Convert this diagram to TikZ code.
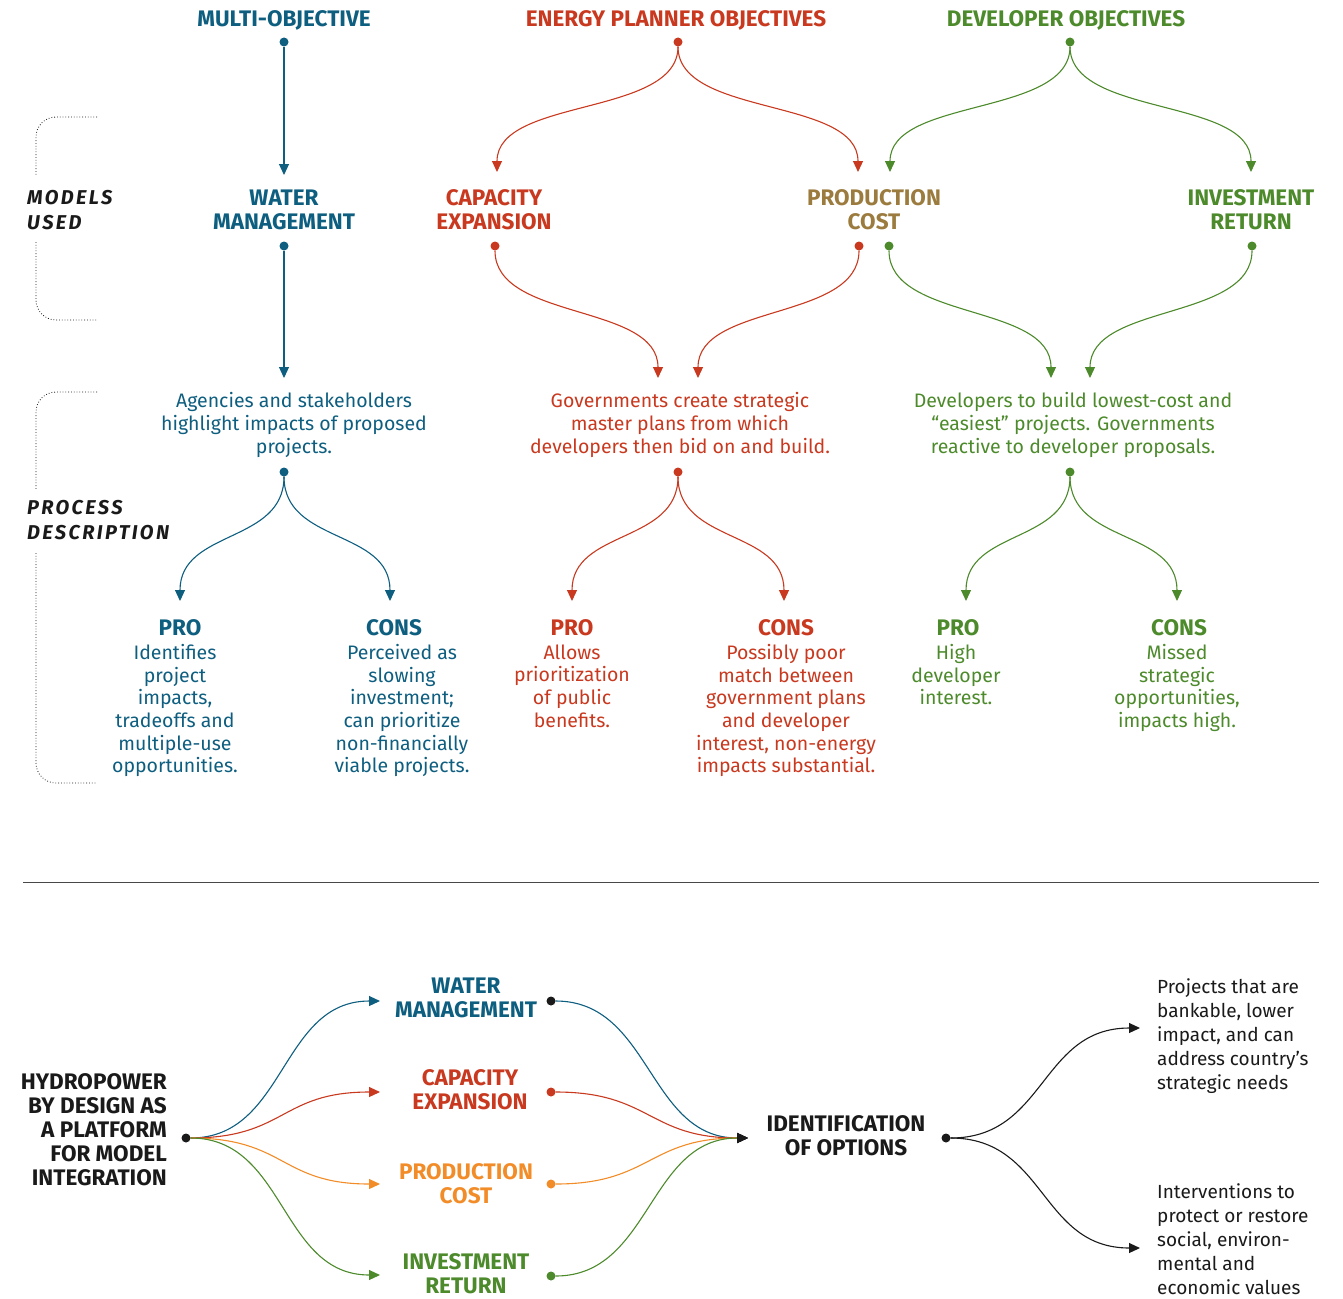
\documentclass[tikz,border=0pt]{standalone}
\usepackage{fontspec}
\setmainfont{Fira Sans}
\usetikzlibrary{positioning,arrows.meta}

\definecolor{wmblue}{HTML}{0E5E80}
\definecolor{epred}{HTML}{C8391F}
\definecolor{dvgreen}{HTML}{4C8A2B}
\definecolor{pcbrown}{HTML}{9B7B3E}
\definecolor{pcorange}{HTML}{F28C28}
\definecolor{ink}{HTML}{1A1A1A}

\begin{document}
\begin{tikzpicture}[x=1pt, y=-1pt,
    head/.style={font=\fontsize{22.5}{24}\selectfont\bfseries, align=center, inner sep=0pt},
    body/.style={font=\fontsize{19.5}{22.6}\selectfont, align=center, inner sep=0pt},
    note/.style={font=\fontsize{19}{24}\selectfont, align=left, inner sep=0pt, anchor=north west, ink},
    side/.style={font=\fontsize{20}{25}\selectfont\bfseries\itshape\addfontfeature{LetterSpace=12}, align=left, inner sep=0pt, anchor=west, ink},
    dot/.style={circle, fill, inner sep=0pt, minimum size=9pt},
    link/.style={line width=1.1pt, -{Triangle[length=11pt,width=10pt]}},
    tipink/.style={line width=1.1pt, -{Triangle[length=11pt,width=10pt,color=ink]}},
    vcurve/.style={to path={.. controls +(0,#1) and +(0,-#1) .. (\tikztotarget)}},
    hcurve/.style={to path={.. controls +(#1,0) and +(-#1,0) .. (\tikztotarget)}},
    bracket/.style={dotted, line width=0.8pt, ink, rounded corners=20pt}]

    \useasboundingbox (0,0) rectangle (1343,1298);

    % objectives
    \node[head, wmblue] (mo) at (284,20) {MULTI-OBJECTIVE};
    \node[head, epred] (ep) at (676,20) {ENERGY PLANNER OBJECTIVES};
    \node[head, dvgreen] (dv) at (1066,20) {DEVELOPER OBJECTIVES};
    \node[dot, wmblue] (mo-d) at (284,42) {};
    \node[dot, epred] (ep-d) at (678,42) {};
    \node[dot, dvgreen] (dv-d) at (1070,42) {};

    % models used
    \coordinate (wm-in) at (284,175);
    \coordinate (ce-in) at (497,172);
    \coordinate (pc-in1) at (858,172);
    \coordinate (pc-in2) at (890,172);
    \coordinate (ir-in) at (1251,172);
    \node[head, wmblue] (wm) at (284,210) {WATER\\MANAGEMENT};
    \node[head, epred] (ce) at (494,210) {CAPACITY\\EXPANSION};
    \node[head, pcbrown] (pc) at (874,210) {PRODUCTION\\COST};
    \node[head, dvgreen] (ir) at (1251,210) {INVESTMENT\\RETURN};
    \node[dot, wmblue] (wm-d) at (284,246) {};
    \node[dot, epred] (ce-d) at (495,246) {};
    \node[dot, epred] (pc-d1) at (859,246) {};
    \node[dot, dvgreen] (pc-d2) at (889,246) {};
    \node[dot, dvgreen] (ir-d) at (1252,246) {};

    % process description
    \coordinate (ag-in) at (284,378);
    \coordinate (gv-in1) at (658,378);
    \coordinate (gv-in2) at (698,378);
    \coordinate (dl-in1) at (1051,378);
    \coordinate (dl-in2) at (1090,378);
    \node[body, wmblue] (ag) at (294,425) {Agencies and stakeholders\\highlight impacts of proposed\\projects.};
    \node[body, epred] (gv) at (680,425) {Governments create strategic\\master plans from which\\developers then bid on and build.};
    \node[body, dvgreen] (dl) at (1073,425) {Developers to build lowest-cost and\\“easiest” projects. Governments\\reactive to developer proposals.};
    \node[dot, wmblue] (ag-d) at (284,472) {};
    \node[dot, epred] (gv-d) at (678,472) {};
    \node[dot, dvgreen] (dl-d) at (1070,472) {};

    % pros and cons
    \coordinate (pro1-in) at (180,601);
    \coordinate (con1-in) at (390,601);
    \coordinate (pro2-in) at (572,601);
    \coordinate (con2-in) at (784,601);
    \coordinate (pro3-in) at (966,601);
    \coordinate (con3-in) at (1177,601);
    \node[head, wmblue] (pro1) at (180,628) {PRO};
    \node[head, wmblue] (con1) at (394,628) {CONS};
    \node[head, epred] (pro2) at (572,628) {PRO};
    \node[head, epred] (con2) at (786,628) {CONS};
    \node[head, dvgreen] (pro3) at (958,628) {PRO};
    \node[head, dvgreen] (con3) at (1179,628) {CONS};
    \node[body, wmblue, below=8pt of pro1, xshift=-5pt] {Identifies\\project\\impacts,\\tradeoffs and\\multiple-use\\opportunities.};
    \node[body, wmblue, below=8pt of con1, xshift=8pt] {Perceived as\\slowing\\investment;\\can prioritize\\non-financially\\viable projects.};
    \node[body, epred, below=8pt of pro2] {Allows\\prioritization\\of public\\benefits.};
    \node[body, epred, below=8pt of con2] {Possibly poor\\match between\\government plans\\and developer\\interest, non-energy\\impacts substantial.};
    \node[body, dvgreen, below=8pt of pro3, xshift=-2pt] {High\\developer\\interest.};
    \node[body, dvgreen, below=8pt of con3, xshift=-2pt] {Missed\\strategic\\opportunities,\\impacts high.};

    \path[link]
        (mo-d) edge[wmblue] (wm-in)
        (ep-d) edge[epred, vcurve=75] (ce-in)
        (ep-d) edge[epred, vcurve=75] (pc-in1)
        (dv-d) edge[dvgreen, vcurve=75] (pc-in2)
        (dv-d) edge[dvgreen, vcurve=75] (ir-in)
        (wm-d) edge[wmblue] (ag-in)
        (ce-d) edge[epred, vcurve=75] (gv-in1)
        (pc-d1) edge[epred, vcurve=75] (gv-in2)
        (pc-d2) edge[dvgreen, vcurve=75] (dl-in1)
        (ir-d) edge[dvgreen, vcurve=75] (dl-in2)
        (ag-d) edge[wmblue, vcurve=72] (pro1-in)
        (ag-d) edge[wmblue, vcurve=72] (con1-in)
        (gv-d) edge[epred, vcurve=72] (pro2-in)
        (gv-d) edge[epred, vcurve=72] (con2-in)
        (dl-d) edge[dvgreen, vcurve=72] (pro3-in)
        (dl-d) edge[dvgreen, vcurve=72] (con3-in);

    % side labels and brackets
    \node[side] (mu) at (27,210) {MODELS\\USED};
    \node[side] (pd) at (27,520) {PROCESS\\DESCRIPTION};
    \draw[bracket] (97,117) -- (36,117) -- (36,176);
    \draw[bracket] (36,242) -- (36,320) -- (97,320);
    \draw[bracket] (97,392) -- (36,392) -- (36,490);
    \draw[bracket] (36,553) -- (36,783) -- (97,783);

    \draw[ink!80, line width=1pt] (23,882) -- (1319,882);

    % model integration
    \node[head, ink, align=right, anchor=east] (hy) at (167,1130) {HYDROPOWER\\BY DESIGN AS\\A PLATFORM\\FOR MODEL\\INTEGRATION};
    \node[dot, ink] (hy-d) at (186,1138) {};
    \coordinate (wm2-in) at (380,1001);
    \coordinate (ce2-in) at (380,1092);
    \coordinate (pc2-in) at (380,1184);
    \coordinate (ir2-in) at (380,1275);
    \node[head, wmblue] (wm2) at (466,998) {WATER\\MANAGEMENT};
    \node[head, epred] (ce2) at (470,1090) {CAPACITY\\EXPANSION};
    \node[head, pcorange] (pc2) at (466,1184) {PRODUCTION\\COST};
    \node[head, dvgreen] (ir2) at (466,1274) {INVESTMENT\\RETURN};
    \node[dot, ink] (wm2-d) at (551,1001) {};
    \node[dot, epred] (ce2-d) at (551,1092) {};
    \node[dot, pcorange] (pc2-d) at (551,1184) {};
    \node[dot, dvgreen] (ir2-d) at (551,1276) {};
    \coordinate (io-in) at (748,1138);
    \node[head, ink] (io) at (846,1136) {IDENTIFICATION\\OF OPTIONS};
    \node[dot, ink] (io-d) at (946,1138) {};
    \coordinate (bk-in) at (1140,1028);
    \coordinate (iv-in) at (1140,1248);
    \node[note] (bk) at (1157,978) {Projects that are\\bankable, lower\\impact, and can\\address country’s\\strategic needs};
    \node[note] (iv) at (1157,1183) {Interventions to\\protect or restore\\social, environ-\\mental and\\economic values};

    \path[link]
        (hy-d) edge[wmblue, hcurve=100] (wm2-in)
        (hy-d) edge[epred, hcurve=100] (ce2-in)
        (hy-d) edge[pcorange, hcurve=100] (pc2-in)
        (hy-d) edge[dvgreen, hcurve=100] (ir2-in)
        (io-d) edge[ink, hcurve=100] (bk-in)
        (io-d) edge[ink, hcurve=100] (iv-in);
    \path[tipink]
        (wm2-d) edge[wmblue, hcurve=100] (io-in)
        (ce2-d) edge[epred, hcurve=100] (io-in)
        (pc2-d) edge[pcorange, hcurve=100] (io-in)
        (ir2-d) edge[dvgreen, hcurve=100] (io-in);

\end{tikzpicture}
\end{document}
